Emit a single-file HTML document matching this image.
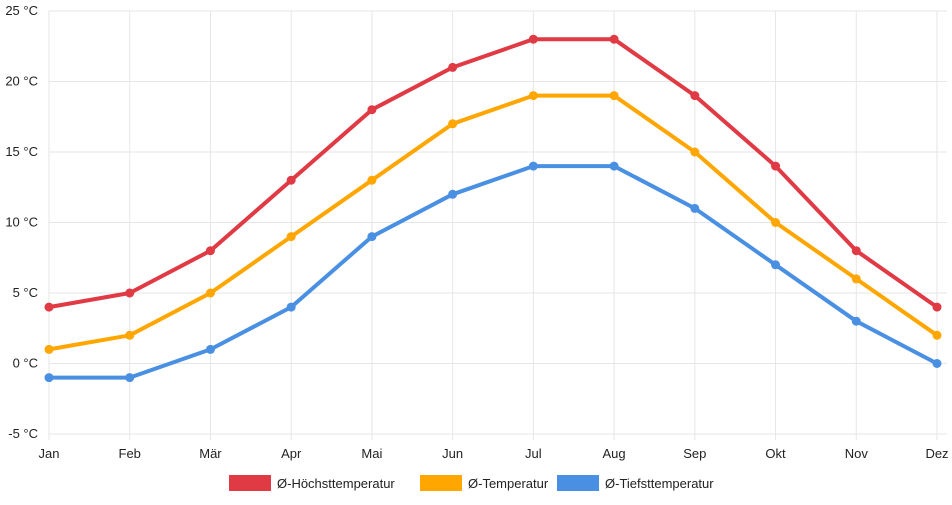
<!DOCTYPE html>
<html><head><meta charset="utf-8"><style>
body{margin:0;background:#fff;font-family:"Liberation Sans",sans-serif;}
svg text{font-family:"Liberation Sans",sans-serif;font-size:13px;fill:#222;}
</style></head><body>
<svg id="c" width="952" height="500"></svg>
<script>
const months=["Jan","Feb","Mär","Apr","Mai","Jun","Jul","Aug","Sep","Okt","Nov","Dez"];
const highTemps=[4,5,8,13,18,21,23,23,19,14,8,4];
const meanTemps=[1,2,5,9,13,17,19,19,15,10,6,2];
const lowTemps=[-1,-1,1,4,9,12,14,14,11,7,3,0];
const yTicks=[-5,0,5,10,15,20,25];
const seriesNames=["Ø-Höchsttemperatur","Ø-Temperatur","Ø-Tiefsttemperatur"];
const NS="http://www.w3.org/2000/svg";
const svg=document.getElementById('c');
const x0=49,x1=937,yTop=11,yBot=434,vmin=-5,vmax=25;
const xs=i=>x0+(x1-x0)*i/(months.length-1);
const ys=v=>yBot-(v-vmin)/(vmax-vmin)*(yBot-yTop);
function mk(t,a){const e=document.createElementNS(NS,t);for(const k in a)e.setAttribute(k,a[k]);svg.appendChild(e);return e;}
yTicks.forEach(v=>{
 const l=mk('line',{x1:x0,x2:x1+10,y1:ys(v),y2:ys(v),stroke:'#e6e6e6'});
 
 
 const t=mk('text',{x:38,y:ys(v)+4,'text-anchor':'end'});t.textContent=v+' °C';
 
 
});
months.forEach((m,i)=>{
 const l=mk('line',{x1:xs(i),x2:xs(i),y1:yTop,y2:yBot+6,stroke:'#e6e6e6'});
 
 
 const t=mk('text',{x:xs(i),y:458,'text-anchor':'middle'});t.textContent=m;
 
 
});
const series=[[highTemps,'#e03a45','high'],[meanTemps,'#ffa600','mean'],[lowTemps,'#4a90e2','low']];
series.forEach(([d,c,n])=>{
 const p=mk('polyline',{points:d.map((v,i)=>xs(i)+','+ys(v)).join(' '),fill:'none',stroke:c,'stroke-width':4,'stroke-linejoin':'round'});
 
 
 d.forEach((v,i)=>{
  const pt=mk('circle',{cx:xs(i),cy:ys(v),r:4.5,fill:c});
  
  
 });
});
const legX=[229,420,557];
seriesNames.forEach((s,i)=>{
 const r=mk('rect',{x:legX[i],y:475,width:42,height:16,fill:series[i][1]});
 
 
 const t=mk('text',{x:legX[i]+48,y:488});t.textContent=s;
 
 
});
</script>
</body></html>
